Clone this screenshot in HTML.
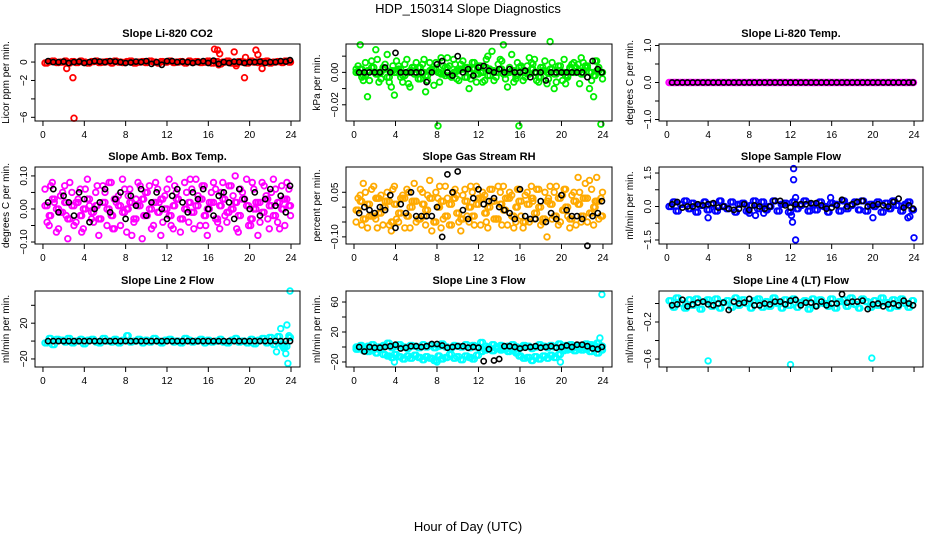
<!DOCTYPE html>
<html><head><meta charset="utf-8"><style>
html,body{margin:0;padding:0;background:#fff;}
svg{display:block;font-family:"Liberation Sans",sans-serif;}
</style></head><body>
<svg id="chart" width="936" height="540" xmlns="http://www.w3.org/2000/svg">
<text x="468" y="13" text-anchor="middle" font-size="13">HDP_150314  Slope Diagnostics</text>
<text x="468" y="531" text-anchor="middle" font-size="13">Hour of Day (UTC)</text>
</svg>
<script>
const hours=[0.2,0.6,0.9,1.3,1.7,2.1,2.4,2.8,3.2,3.6,3.9,4.3,4.7,5.1,5.4,5.8,6.2,6.6,6.9,7.3,7.7,8.1,8.4,8.8,9.2,9.6,9.9,10.3,10.7,11.1,11.4,11.8,12.2,12.6,12.9,13.3,13.7,14.1,14.4,14.8,15.2,15.6,15.9,16.3,16.7,17.1,17.4,17.8,18.2,18.6,18.9,19.3,19.7,20.1,20.4,20.8,21.2,21.6,21.9,22.3,22.7,23.1,23.4,23.8];
const hoursB=[0.4,0.75,1.1,1.5,1.9,2.25,2.6,3.0,3.4,3.75,4.1,4.5,4.9,5.25,5.6,6.0,6.4,6.75,7.1,7.5,7.9,8.25,8.6,9.0,9.4,9.75,10.1,10.5,10.9,11.25,11.6,12.0,12.4,12.75,13.1,13.5,13.9,14.25,14.6,15.0,15.4,15.75,16.1,16.5,16.9,17.25,17.6,18.0,18.4,18.75,19.1,19.5,19.9,20.25,20.6,21.0,21.4,21.75,22.1,22.5,22.9,23.25,23.6,23.95];
const bHours=[0.5,1.0,1.5,2.0,2.5,3.0,3.5,4.0,4.5,5.0,5.5,6.0,6.5,7.0,7.5,8.0,8.5,9.0,9.5,10.0,10.5,11.0,11.5,12.0,12.5,13.0,13.5,14.0,14.5,15.0,15.5,16.0,16.5,17.0,17.5,18.0,18.5,19.0,19.5,20.0,20.5,21.0,21.5,22.0,22.5,23.0,23.5,23.9];
const xTicks=[0,4,8,12,16,20,24];

const co2Band=[-0.1,0.05,0.1,-0.05,0,0.1,-0.1,0.05,-0.05,0.1,0,-0.1,0.05,0.1,-0.05,0,0.05,-0.1,0.1,0,-0.05,0.05,0.1,-0.1,0,0.05,-0.05,0.1,0,-0.1,0.05,0,0.1,-0.05,0,0.05,-0.1,0.1,0,0.05,-0.05,0,0.1,-0.1,0.05,-0.2,0,0.1,-0.1,-0.15,0.05,0,-0.1,0.1,0,-0.05,0.05,0.1,-0.1,0,0.05,-0.05,0.1,0];
const co2OutH=[2.3,2.9,3.0,16.6,16.9,17.1,18.5,19.5,19.6,20.6,20.8,21.2,18.7,17.0];
const co2OutV=[-0.7,-1.7,-6.1,1.4,1.3,0.9,1.1,-1.7,0.5,1.3,0.8,-0.7,-0.4,-0.3];
const co2Black=[0.1,0,0,0.05,-0.1,0,0.05,-0.1,0,0.1,0.05,0,0.1,0.05,0,-0.1,-0.05,0.05,0,0.1,-0.2,0,-0.3,0.1,0.1,0,0.05,0,-0.1,0,0.1,-0.1,0.15,-0.2,0,-0.1,0.05,0,-0.1,0,0,0.05,-0.1,0,0,0.1,0.05,0.2];

const presBand=[0,0.002,-0.002,0.001,0.003,-0.001,0,0.002,-0.003,0.001,0,0.002,-0.002,0,0.001,-0.001,0.003,0,-0.002,0.001,0.002,0,-0.001,0.003,-0.002,0,0.001,0.002,-0.003,0,0.002,-0.001,0,0.003,-0.002,0.001,0,0.002,-0.001,0,0.001,-0.002,0.003,0,-0.001,0.002,0,-0.003,0.001,0,0.002,-0.001,0.001,0,-0.002,0.002,0,0.001,-0.001,0.003,0,-0.002,0.001,0];
const presScatter=[0.002,0.017,-0.005,-0.015,0.007,0.014,-0.006,0.003,0.011,-0.009,-0.014,0.004,-0.006,0.008,-0.009,0.003,-0.004,0.005,-0.012,0.006,-0.008,-0.033,0.009,-0.002,0.004,0.008,-0.004,0.005,0.003,-0.010,0.006,-0.006,0.004,-0.005,0.010,0.013,-0.003,0.008,0.017,-0.009,0.011,-0.004,-0.033,-0.005,0.004,0.006,0.008,-0.006,0.003,-0.007,0.019,-0.010,0.004,-0.005,-0.007,0.003,0.006,0.005,0.009,0.004,-0.010,-0.015,0.007,-0.032];
const presScatter2=[0.004,-0.003,0.006,-0.005,0.003,0.008,-0.004,0.005,-0.006,0.004,0.007,-0.003,0.005,-0.007,0.003,0.006,-0.004,0.008,-0.005,0.002,0.006,-0.006,0.004,0.009,-0.003,0.005,-0.005,0.007,0.003,-0.004,0.006,0.004,-0.006,0.008,0.002,-0.005,0.005,0.007,-0.004,0.003,-0.006,0.006,0.004,-0.003,0.009,0.005,-0.005,0.003,0.007,-0.004,0.006,-0.006,0.004,0.008,-0.003,0.005,0.003,-0.007,0.006,0.004,-0.005,0.007,0.003,-0.004];
const presBlack=[0,0,0,0,0,0.003,0,0.012,0,0,0,0,0,-0.006,0,0.005,0.007,0,-0.002,0.010,0,0.002,-0.002,0.003,0.004,0.001,0,0.002,0,0.002,0,0,0.001,-0.003,0,0,-0.005,0,0,0,0,0,0,0,-0.003,0.007,0.002,0];

const tempBand=[0,0,0,0,0,0,0,0,0,0,0,0,0,0,0,0,0,0,0,0,0,0,0,0,0,0,0,0,0,0,0,0,0,0,0,0,0,0,0,0,0,0,0,0,0,0,0,0,0,0,0,0,0,0,0,0,0,0,0,0,0,0,0,0];
const tempBlack=[0,0,0,0,0,0,0,0,0,0,0,0,0,0,0,0,0,0,0,0,0,0,0,0,0,0,0,0,0,0,0,0,0,0,0,0,0,0,0,0,0,0,0,0,0,0,0,0];

const ambBand=[0.01,-0.02,0.03,0,-0.01,0.02,-0.03,0.01,0.02,-0.02,0,0.03,-0.01,0.01,-0.03,0.02,0,-0.02,0.03,0.01,-0.01,0,0.02,-0.03,0.01,0.03,-0.02,0,0.02,-0.01,0.03,0,-0.02,0.01,0.03,-0.03,0,0.02,-0.01,0.01,0.03,-0.02,0,0.02,-0.03,0.01,0.03,-0.01,0,0.02,-0.02,0.03,0.01,-0.03,0,0.02,-0.01,0.03,0.01,-0.02,0.02,0,0.03,0.01];
const ambScatter=[0.06,-0.05,0.08,-0.07,0.04,0.07,-0.09,0.05,-0.04,0.06,-0.06,0.09,-0.03,0.05,-0.08,0.07,-0.05,0.08,-0.06,0.04,0.09,-0.07,0.06,-0.04,0.08,-0.09,0.05,0.07,-0.05,0.06,-0.08,0.04,0.09,-0.06,0.05,-0.07,0.08,-0.04,0.06,0.09,-0.05,0.07,-0.08,0.05,0.06,-0.06,0.08,-0.04,0.07,0.1,-0.07,0.05,0.09,-0.05,0.06,-0.08,0.08,0.04,-0.06,0.09,-0.04,0.07,-0.05,0.06];
const ambScatter2=[-0.04,0.07,0.02,-0.06,0.05,-0.02,0.08,-0.05,0.03,-0.07,0.06,0.01,-0.04,0.07,-0.03,0.05,0.08,-0.06,0.02,-0.05,0.06,0.04,-0.08,0.03,0.07,-0.02,0.05,-0.06,0.08,0.02,-0.04,0.06,-0.05,0.07,0.03,-0.03,0.05,0.09,-0.06,0.04,0.07,-0.05,0.02,0.08,-0.04,0.05,-0.02,0.07,0.04,-0.06,0.06,0.03,-0.05,0.08,0.02,-0.04,0.07,-0.03,0.05,0.06,-0.06,0.03,0.08,-0.02];
const ambBlack=[0.02,0.06,-0.01,0.04,0.02,-0.02,0.05,0.03,-0.04,0,0.02,0.06,-0.01,0.03,0.05,-0.03,0.04,0.01,0.06,-0.02,0.02,0.05,0,-0.03,0.04,0.06,0.02,-0.01,0.05,0.03,0.06,0,-0.02,0.04,0.05,0.02,-0.03,0.06,0.03,0,0.05,-0.02,0.03,0.06,0.01,0.04,-0.01,0.07];

const rhBand=[-0.01,0.02,-0.04,0.01,-0.03,0.03,-0.02,0,0.02,-0.05,0.01,-0.02,0.03,-0.03,0,0.02,-0.04,0.01,-0.01,0.03,-0.05,0,0.02,-0.03,0.01,0.03,-0.02,-0.04,0.02,0,-0.03,0.01,0.03,-0.02,0,0.02,-0.04,0.01,-0.01,0.03,-0.03,0,0.02,-0.05,0.01,0.03,-0.02,0,-0.04,0.02,0.01,-0.03,0.03,-0.01,0,-0.04,0.02,0.01,-0.03,0.03,-0.02,0,0.02,-0.03];
const rhScatter=[-0.05,0.04,0.08,-0.07,0.06,-0.04,0.03,-0.06,0.05,-0.08,0.07,-0.05,0.04,0.06,-0.07,0.08,-0.04,0.05,-0.06,0.09,-0.05,0.03,-0.07,0.07,-0.06,0.05,0.04,-0.08,0.06,-0.05,0.05,0.07,-0.06,0.04,-0.07,0.06,-0.04,0.05,0.07,-0.06,0.04,-0.05,0.06,-0.07,0.05,0.07,-0.04,0.06,-0.05,-0.1,0.07,0.05,-0.06,0.04,0.06,-0.07,0.05,0.1,-0.05,0.08,0.09,-0.06,0.1,0.03];
const rhScatter2=[0.03,-0.06,0.05,-0.03,0.07,-0.07,0.04,0.02,-0.06,0.06,-0.04,0.03,-0.07,0.05,0.02,-0.05,0.06,-0.03,0.04,-0.08,0.05,0.07,-0.04,0.03,-0.06,0.06,-0.05,0.04,-0.03,0.07,-0.06,0.03,0.05,-0.05,0.06,-0.04,0.07,-0.06,0.03,0.05,-0.07,0.06,-0.03,0.04,-0.05,0.02,0.06,-0.06,0.05,0.03,-0.04,0.07,-0.05,0.06,-0.03,0.04,-0.06,0.05,0.03,-0.05,0.06,0.02,-0.04,0.05];
const rhBlack=[-0.02,0,-0.01,-0.02,0,-0.01,0.04,-0.07,0.01,-0.02,0.05,-0.03,-0.03,-0.03,-0.03,0,-0.1,0.11,0.05,0.12,-0.01,-0.04,0.03,0.06,0.01,0.02,0.03,0,-0.01,-0.02,-0.04,0.06,-0.03,-0.04,-0.04,0.02,-0.05,-0.02,-0.04,0.04,-0.01,-0.03,-0.03,-0.04,-0.13,-0.03,-0.02,0.02];

const sfBand=[0,0.2,-0.2,0.1,0.25,-0.1,0.15,-0.25,0.05,0.2,-0.15,0.1,-0.2,0.25,0,-0.1,0.2,-0.25,0.1,0.15,-0.2,0.05,0.25,-0.1,0.2,-0.15,0,0.25,-0.2,0.1,0.15,-0.25,0.2,-0.1,0.05,0.25,-0.2,0.1,-0.15,0.2,0,-0.25,0.15,0.1,-0.2,0.25,-0.1,0.05,0.2,-0.15,0.25,-0.2,0.1,0,0.2,-0.25,0.15,-0.1,0.25,0.05,-0.2,0.1,0.2,-0.15];
const sfOutH=[4.0,8.0,8.6,9.4,12.1,12.2,12.3,12.3,12.5,12.5,15.9,20.0,23.4,23.6,24.0];
const sfOutV=[-0.5,-0.3,-0.4,-0.3,-0.4,-0.7,1.7,1.2,-1.5,0.4,0.4,-0.5,-0.5,-0.45,-1.4];
const sfBlack=[0.1,0.2,-0.05,0,0,0.1,0.05,0.1,0.15,-0.05,0,-0.1,-0.15,-0.1,0.1,-0.15,0.05,0,-0.1,0,0.25,0.25,0.05,-0.05,0.1,0.1,0.1,0.15,0.15,0.05,-0.1,-0.05,0.05,0.3,0,0.1,0.2,0.25,0,0.05,0.1,0.05,0,0.2,0.35,-0.05,0.05,-0.1];

const l2Band=[-2,3,-4,2,1,-1,3,-2,0,2,-3,1,2,-1,-2,3,0,-1,2,-2,1,6,-1,0,2,-2,1,-1,3,0,-2,1,2,-1,0,-2,3,1,-1,0,2,-2,1,-1,0,2,-1,-2,1,3,-1,0,-2,2,-3,1,3,-2,4,-4,5,-3,-6,4];
const l2OutH=[22.6,23.0,23.3,23.5,23.6,23.7,23.8,23.9,23.2];
const l2OutV=[-12,14,-8,-14,18,-25,6,56,-6];
const l2Black=[0,0,0,0,0,0,0,0,0,0,0,0,0,0,0,0,0,0,0,0,0,0,0,0,0,0,0,0,0,0,0,0,0,0,0,0,0,0,0,0,0,0,0,0,0,0,0,0];

const l3BandA=[0,2,-2,1,3,-1,0,2,5,-1,1,3,0,-2,2,1,-1,3,0,2,-1,1,4,0,-2,2,1,0,3,-1,2,0,6,1,-1,3,0,2,-2,1,3,0,-1,2,1,-2,0,3,1,-1,2,0,4,1,2,3,0,2,1,4,3,2,5,1];
const l3BandB=[-3,-2,-5,-6,-4,-8,-3,-10,-12,-14,-10,-13,-16,-12,-15,-11,-14,-17,-13,-15,-18,-12,-16,-14,-10,-15,-13,-17,-12,-14,-16,-11,-6,-4,-3,-5,-2,-4,-3,-6,-5,-8,-12,-15,-14,-18,-13,-16,-12,-15,-11,-14,-10,-5,-4,-3,-5,-2,-4,-3,-6,-2,-8,-4];
const l3OutH=[3.9,8.0,19.9,23.9,23.7];
const l3OutV=[-20,-20,-20,70,12];
const l3Black=[0,-6,0,-1,-1,0,1,3,-2,-1,1,1,0,1,4,4,2,-1,0,1,1,-1,0,-1,-19,-3,-18,-16,1,1,0,-2,-1,0,1,-1,0,1,-1,0,2,0,3,3,1,-2,-3,0];

const l4Band=[0.03,-0.04,0.06,0,-0.05,0.04,-0.02,0.05,-0.06,0.02,0.04,-0.03,0.05,-0.05,0.01,0.03,-0.04,0.06,-0.02,0.04,0,-0.05,0.03,0.05,-0.04,0.02,-0.03,0.06,0,-0.05,0.04,-0.02,0.05,-0.04,0.01,0.03,-0.06,0.05,-0.02,0.04,0,-0.03,0.05,-0.05,0.02,0.04,-0.03,0.06,-0.01,-0.05,0.05,0.02,-0.04,0.03,-0.02,0.06,0.01,-0.05,0.04,-0.03,0.05,0,-0.04,0.03];
const l4OutH=[4.0,12.0,19.9];
const l4OutV=[-0.62,-0.66,-0.59];
const l4Black=[-0.02,-0.01,0.04,-0.03,-0.01,0.01,0.02,-0.01,-0.02,0,0.01,-0.07,0.02,0,0.01,0.05,-0.02,-0.02,0,-0.01,0.02,0.02,-0.01,0.03,0.04,-0.02,0.01,0.01,-0.03,0.02,-0.02,0,0,0.1,0.01,0.02,0.02,0.03,-0.06,-0.01,0,-0.03,-0.01,0,-0.02,0.03,0,-0.02];

const co2Ticks=[0,-2,-4,-6], co2Labels=["0","-2","","-6"];
const presTicks=[0.01,0,-0.01,-0.02], presLabels=["","0.00","","-0.02"];
const tempTicks=[1,0.5,0,-0.5,-1], tempLabels=["1.0","","0.0","","-1.0"];
const ambTicks=[0.1,0.05,0,-0.05,-0.1], ambLabels=["0.10","","0.00","","-0.10"];
const rhTicks=[0.05,0,-0.05,-0.1], rhLabels=["0.05","","","-0.10"];
const sfTicks=[1.5,0.75,0,-0.75,-1.5], sfLabels=["1.5","","0.0","","-1.5"];
const l2Ticks=[40,20,0,-20], l2Labels=["","20","","-20"];
const l3Ticks=[60,40,20,0,-20], l3Labels=["60","","20","","-20"];
const l4Ticks=[0,-0.2,-0.4,-0.6], l4Labels=["","-0.2","","-0.6"];

const cols=[[35,300],[346,612],[659,923]];
const rows=[[44,121],[167,244],[291,367]];
const panels=[
 {t:"Slope Li-820 CO2",yl:"Licor ppm per min.",c:0,r:0,y0:-6.4,y1:1.96,ticks:co2Ticks,labs:co2Labels,col:"#ff0000",ser:[[hours,co2Band],[hoursB,co2Band],[co2OutH,co2OutV]],blk:co2Black,name:"co2"},
 {t:"Slope Li-820 Pressure",yl:"kPa per min.",c:1,r:0,y0:-0.03,y1:0.0175,ticks:presTicks,labs:presLabels,col:"#00ee00",ser:[[hours,presBand],[hoursB,presBand],[hours,presScatter],[hoursB,presScatter2]],blk:presBlack,name:"pressure"},
 {t:"Slope Li-820 Temp.",yl:"degrees C per min.",c:2,r:0,y0:-1.04,y1:1.04,ticks:tempTicks,labs:tempLabels,col:"#ff00ff",ser:[[hours,tempBand],[hoursB,tempBand]],blk:tempBlack,name:"temp"},
 {t:"Slope Amb. Box Temp.",yl:"degrees C per min.",c:0,r:1,y0:-0.106,y1:0.127,ticks:ambTicks,labs:ambLabels,col:"#ff00ff",ser:[[hours,ambBand],[hoursB,ambBand],[hours,ambScatter],[hoursB,ambScatter2]],blk:ambBlack,name:"amb-box-temp"},
 {t:"Slope Gas Stream RH",yl:"percent per min.",c:1,r:1,y0:-0.124,y1:0.135,ticks:rhTicks,labs:rhLabels,col:"#ffaa00",ser:[[hours,rhBand],[hoursB,rhBand],[hours,rhScatter],[hoursB,rhScatter2]],blk:rhBlack,name:"gas-rh"},
 {t:"Slope Sample Flow",yl:"ml/min per min.",c:2,r:1,y0:-1.68,y1:1.77,ticks:sfTicks,labs:sfLabels,col:"#0000ff",ser:[[hours,sfBand],[hoursB,sfBand],[sfOutH,sfOutV]],blk:sfBlack,name:"sample-flow"},
 {t:"Slope Line 2 Flow",yl:"ml/min per min.",c:0,r:2,y0:-29,y1:56,ticks:l2Ticks,labs:l2Labels,col:"#00ffff",ser:[[hours,l2Band],[hoursB,l2Band],[l2OutH,l2OutV]],blk:l2Black,name:"line2-flow"},
 {t:"Slope Line 3 Flow",yl:"ml/min per min.",c:1,r:2,y0:-26.7,y1:74.7,ticks:l3Ticks,labs:l3Labels,col:"#00ffff",ser:[[hours,l3BandA],[hoursB,l3BandA],[hours,l3BandB],[hoursB,l3BandB],[l3OutH,l3OutV]],blk:l3Black,name:"line3-flow"},
 {t:"Slope Line 4 (LT) Flow",yl:"ml/min per min.",c:2,r:2,y0:-0.686,y1:0.135,ticks:l4Ticks,labs:l4Labels,col:"#00ffff",ser:[[hours,l4Band],[hoursB,l4Band],[l4OutH,l4OutV]],blk:l4Black,name:"line4-flow",noXLab:true}
];
const NS="http://www.w3.org/2000/svg";
const svg=document.getElementById("chart");
function mk(tag,attrs,parent){const e=document.createElementNS(NS,tag);for(const k in attrs)e.setAttribute(k,attrs[k]);parent.appendChild(e);return e;}
const X0=-0.77,X1=24.87;
panels.forEach(p=>{
 const [L,R]=cols[p.c],[T,B]=rows[p.r];
 const xs=h=>L+(h-X0)/(X1-X0)*(R-L);
 const ys=v=>B-(v-p.y0)/(p.y1-p.y0)*(B-T);
 const g=mk("g",{},svg);
 
 
 const title=mk("text",{x:(L+R)/2,y:T-7,"text-anchor":"middle","font-size":"11","font-weight":"bold"},g);
 title.textContent=p.t;
 
 
 const yl=mk("text",{x:0,y:0,"text-anchor":"middle","font-size":"10",transform:`translate(${L-26},${(T+B)/2}) rotate(-90)`},g);
 yl.textContent=p.yl;
 
 
 const pts=mk("g",{fill:"none"},g);
 
 
 p.ser.forEach(s=>{
  s[0].forEach((h,i)=>{
   const c=mk("circle",{cx:xs(h).toFixed(1),cy:ys(s[1][i]).toFixed(1),r:"2.8",stroke:p.col,"stroke-width":"1.8"},pts);
   
   
  });
 });
 bHours.forEach((h,i)=>{
  const c=mk("circle",{cx:xs(h).toFixed(1),cy:ys(p.blk[i]).toFixed(1),r:"2.6",stroke:"#000","stroke-width":"1.6"},pts);
  
  
 });
 const box=mk("rect",{x:L,y:T,width:R-L,height:B-T,fill:"none",stroke:"#000","stroke-width":"1"},g);
 
 
 xTicks.forEach(t=>{
  const x=xs(t);
  const tk=mk("line",{x1:x,x2:x,y1:B,y2:B+5,stroke:"#000"},g);
  
  
  if(!p.noXLab){
   const lb=mk("text",{x:x,y:B+17,"text-anchor":"middle","font-size":"10"},g);
   lb.textContent=String(t);
   
   
  }
 });
 p.ticks.forEach((t,i)=>{
  const y=ys(t);
  const tk=mk("line",{x1:L-4,x2:L,y1:y,y2:y,stroke:"#000"},g);
  
  
  if(p.labs[i]){
   const lb=mk("text",{x:0,y:0,"text-anchor":"middle","font-size":"10",transform:`translate(${L-8},${y}) rotate(-90)`},g);
   lb.textContent=p.labs[i].replace("-","\u2212");
   
   
  }
 });
});
</script>
</body></html>
